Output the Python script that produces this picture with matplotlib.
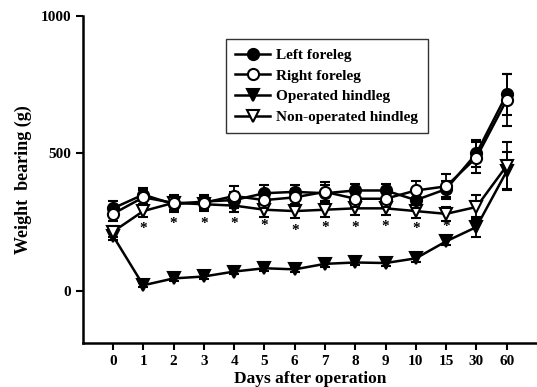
import matplotlib
matplotlib.use("Agg")
import matplotlib.pyplot as plt
from matplotlib.lines import Line2D
import numpy as np

days = ['0', '1', '2', '3', '4', '5', '6', '7', '8', '9', '10', '15', '30', '60']
left_fore = [300, 350, 315, 325, 330, 355, 360, 355, 365, 365, 330, 370, 500, 715]
left_err = [25, 25, 30, 25, 30, 30, 25, 30, 25, 25, 30, 30, 50, 75]
right_fore = [280, 340, 320, 320, 345, 330, 340, 360, 335, 335, 365, 380, 485, 695]
right_err = [25, 25, 30, 25, 35, 30, 30, 35, 30, 30, 35, 45, 55, 95]
non_op = [215, 290, 320, 315, 310, 295, 290, 295, 300, 300, 290, 280, 305, 455]
non_op_err = [20, 20, 25, 25, 25, 25, 25, 25, 25, 25, 25, 25, 45, 85]
operated = [200, 20, 45, 52, 70, 82, 78, 98, 103, 101, 118, 180, 232, 435]
operated_err = [15, 8, 10, 10, 10, 10, 10, 10, 10, 10, 12, 12, 35, 70]
star_days = ['1', '2', '3', '4', '5', '6', '7', '8', '9', '10', '15']
star_vals = [226, 246, 246, 244, 239, 221, 230, 230, 233, 228, 233]

plt.rcParams['font.family'] = ['Liberation Serif', 'DejaVu Serif']
plt.rcParams['font.weight'] = 'bold'

fig = plt.figure(figsize=(5.37, 3.87), dpi=100)
ax = fig.add_axes([0.154, 0.1137, 0.846, 0.845])

x = np.arange(len(days))
ms = 8
common = dict(color='black', lw=1.8, capsize=3.5, elinewidth=1.3, capthick=1.6, ms=ms,
              markeredgewidth=1.5, markeredgecolor='black')

ax.errorbar(x, operated, yerr=operated_err, marker='v', mfc='black', zorder=3, **common)
ax.errorbar(x, non_op, yerr=non_op_err, marker='v', mfc='white', zorder=4, **common)
ax.errorbar(x, left_fore, yerr=left_err, marker='o', mfc='black', zorder=5, **common)
ax.errorbar(x, right_fore, yerr=right_err, marker='o', mfc='white', zorder=6, **common)

sx = [days.index(d) for d in star_days]
for xi, yv in zip(sx, star_vals):
    ax.text(xi, yv, '*', ha='center', va='center', fontsize=11, fontweight='bold')

ax.set_xlim(-1, 14)
ax.set_ylim(-190, 1000)
ax.set_xticks(x)
ax.set_xticklabels(days)
ax.set_yticks([0, 500, 1000])
ax.spines['top'].set_visible(False)
ax.spines['right'].set_visible(False)
ax.spines['left'].set_linewidth(1.8)
ax.spines['bottom'].set_linewidth(1.8)
ax.tick_params(axis='both', direction='out', length=5, width=1.5, labelsize=11)
for lab in ax.get_xticklabels() + ax.get_yticklabels():
    lab.set_fontweight('bold')

ax.set_xlabel('Days after operation', fontsize=12.5, fontweight='bold', labelpad=2)
ax.set_ylabel('Weight  bearing (g)', fontsize=13, fontweight='bold', labelpad=6)

labels = ['Left foreleg', 'Right foreleg', 'Operated hindleg', 'Non-operated hindleg']
styles = [('o', 'black'), ('o', 'white'), ('v', 'black'), ('v', 'white')]
handles = [Line2D([0], [0], color='black', lw=1.8, marker=m, mfc=f, mec='black',
                  mew=1.5, ms=ms) for m, f in styles]
leg = ax.legend(handles, labels, loc='upper left',
                bbox_to_anchor=(0.3155, 0.9287), frameon=True, fancybox=False,
                edgecolor='black', prop={'size': 11, 'weight': 'bold'},
                handlelength=2.3, borderaxespad=0, labelspacing=0.45, handletextpad=0.4,
                borderpad=0.6)
leg.get_frame().set_linewidth(1.0)

fig.savefig('out.png', dpi=100)
